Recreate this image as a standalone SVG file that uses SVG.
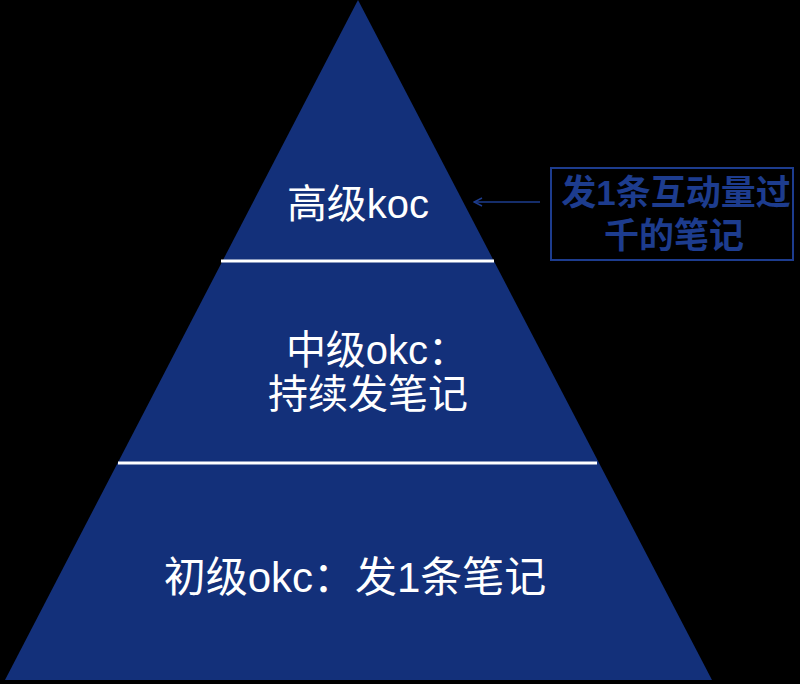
<svg xmlns="http://www.w3.org/2000/svg" width="800" height="684" viewBox="0 0 800 684">
<style>
.lbl{font-family:"Liberation Sans","Noto Sans CJK SC",sans-serif;font-size:40px;fill:#ffffff;text-anchor:middle}
.note{font-family:"Liberation Sans","Noto Sans CJK SC",sans-serif;font-size:35px;font-weight:bold;fill:#1d3c8e;text-anchor:middle}
.sep{stroke:#ffffff;stroke-width:3}
</style>
<defs>
<marker id="ah" viewBox="0 0 10 10" refX="9" refY="5" markerWidth="10" markerHeight="10" markerUnits="userSpaceOnUse" orient="auto">
<path d="M1,1 L9,5 L1,9" fill="none" stroke="#1d3c8e" stroke-width="1.5"/>
</marker>
</defs>
<rect width="800" height="684" fill="#000000"/>
<g id="pyramid">
<polygon points="358,0 712,680 5,680" fill="#13307a"/>
</g>
<g id="separators">
<line class="sep" x1="221" y1="261" x2="494" y2="261"/>
<line class="sep" x1="118" y1="463" x2="597" y2="463"/>
</g>
<g id="level-top">
<text class="lbl" x="358" y="218">高级koc</text>
</g>
<g id="level-mid">
<text class="lbl" x="377" y="364">中级okc：</text>
<text class="lbl" x="368" y="408">持续发笔记</text>
</g>
<g id="level-bottom">
<text class="lbl" x="355" y="592" style="font-size:42px">初级okc：发1条笔记</text>
</g>
<g id="note">
<rect x="551" y="168" width="242" height="92" fill="none" stroke="#1d3c8e" stroke-width="2"/>
<text class="note" x="676" y="205">发1条互动量过</text>
<text class="note" x="674" y="248">千的笔记</text>
</g>
<g id="connectors">
<line x1="540" y1="202" x2="474" y2="202" stroke="#1d3c8e" stroke-width="1.5" marker-end="url(#ah)"/>
</g>
</svg>
